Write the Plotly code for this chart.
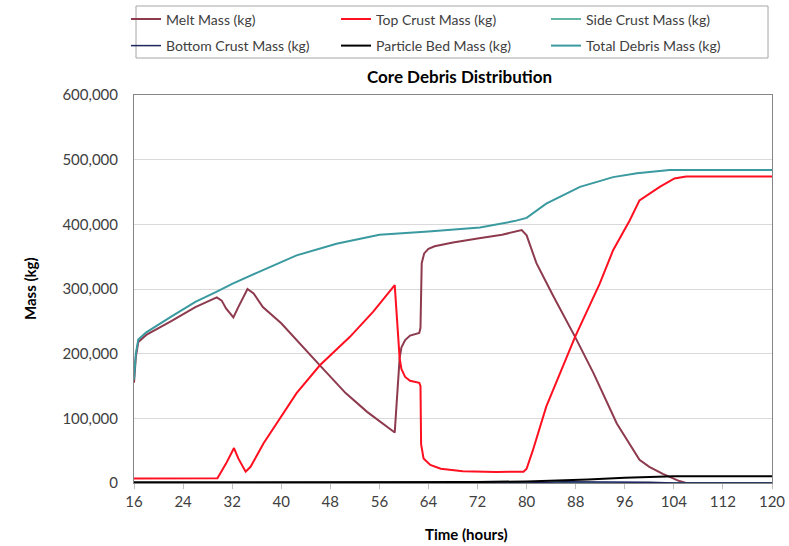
import plotly.graph_objects as go

# ---------------- data ----------------
melt_t = [16, 16.3, 16.7, 18, 22, 26, 29.5, 30.3, 31, 32.2, 33, 34.5, 35.5, 37, 40, 42, 46.3, 50.5, 54, 58.5,
          59.0, 59.3, 59.6, 60.2, 61, 62.5, 62.7, 62.9, 63.3, 64, 65, 68, 72, 76, 79.2, 80, 81.6, 84.3,
          87.9, 90.9, 94.7, 98.4, 100, 102.2, 104.9, 106, 120]
melt_kg = [155000, 195000, 218000, 229000, 250000, 272000, 287000, 282000, 270000, 256000, 272000, 300000,
           293000, 272000, 247000, 226000, 182000, 139000, 110000, 78000,
           150000, 193000, 210000, 221000, 228000, 232000, 240000, 340000, 355000, 362000, 366000, 372000,
           378000, 384000, 391000, 383000, 340000, 290000,
           226000, 170000, 92000, 36000, 25000, 14000, 3000, 0, 0]

top_t = [16, 29.6, 31, 32.3, 33, 34.2, 35, 37.1, 42.5, 46.3, 51.2, 55, 58.5, 59.3, 59.6, 60.2, 61, 62.5,
         62.7, 62.8, 63.2, 64.3, 66, 69.6, 75, 79.5, 80, 81, 83.2, 85.4, 87.9, 91.9, 94.1, 96.8, 98.4,
         101.7, 104.1, 106, 120]
top_kg = [7000, 7500, 30000, 54000, 38000, 17500, 25000, 61000, 139000, 182000, 226000, 265000, 306000,
          193000, 176000, 164000, 158000, 155000,
          150000, 60000, 38000, 28000, 22000, 18000, 17000, 17500, 22000, 50000, 118000, 169000, 226000,
          308000, 360000, 406000, 437000,
          458000, 471000, 474000, 474000]

side_t = [16, 120]
side_kg = [0, 0]

bottom_t = [16, 80, 86, 92, 100, 104, 120]
bottom_kg = [0, 0, 2000, 2000, 1000, 0, 0]

bed_t = [16, 64, 72, 80, 85, 90, 96, 104, 120]
bed_kg = [1000, 1200, 1500, 2500, 3500, 5500, 8000, 10500, 10500]

total_t = [16, 16.3, 16.7, 18, 22, 26, 29.5, 32, 36, 42.5, 49, 56, 64, 72.4, 78, 80, 83.2, 85.4, 88.7,
           94.1, 98, 103.3, 120]
total_kg = [160000, 200000, 222000, 233000, 257000, 280000, 296000, 308000, 325000, 352000, 370000,
            384000, 389000, 395000, 405000, 410000, 432000, 442000, 458000,
            473000, 479000, 484000, 484000]

x_ticks = [16, 24, 32, 40, 48, 56, 64, 72, 80, 88, 96, 104, 112, 120]
y_ticks = [0, 100000, 200000, 300000, 400000, 500000, 600000]

# ---------------- figure ----------------
FONT = "Lato, 'Open Sans', sans-serif"
TXT = "#404040"

fig = go.Figure()
series = [
    ("Melt Mass (kg)", melt_t, melt_kg, "#8e3a4e", 2, "legend"),
    ("Top Crust Mass (kg)", top_t, top_kg, "#ff1020", 2, "legend"),
    ("Side Crust Mass (kg)", side_t, side_kg, "#2f9e86", 1.5, "legend"),
    ("Bottom Crust Mass (kg)", bottom_t, bottom_kg, "#1f2560", 1.5, "legend2"),
    ("Particle Bed Mass (kg)", bed_t, bed_kg, "#000000", 2, "legend2"),
    ("Total Debris Mass (kg)", total_t, total_kg, "#3a9aa0", 2, "legend2"),
]
for name, t, v, col, w, lg in series:
    fig.add_trace(go.Scatter(x=t, y=v, name=name, mode="lines",
                             line=dict(color=col, width=w), legend=lg))

W, H = 789, 546
L, R, T, B = 134, 17, 95, 63
pw, ph = W - L - R, H - T - B


def px(xp):
    return (xp - L) / pw


def py(yp):
    return (H - B - yp) / ph


leg_common = dict(orientation="h", xanchor="left", yanchor="middle",
                  font=dict(family=FONT, size=14, color=TXT),
                  bgcolor="rgba(0,0,0,0)", borderwidth=0,
                  entrywidth=165, entrywidthmode="pixels")

fig.update_layout(
    width=W, height=H,
    margin=dict(l=L, r=R, t=T, b=B, autoexpand=False),
    paper_bgcolor="white", plot_bgcolor="white",
    font=dict(family=FONT, size=14, color=TXT),
    title=dict(text="<b>Core Debris Distribution</b>", x=459.5 / W, xref="container",
               xanchor="center", y=1 - 77 / H, yref="container", yanchor="middle",
               font=dict(family=FONT, size=17, color="#000000")),
    legend=dict(x=px(126), y=py(19.5), **leg_common),
    legend2=dict(x=px(126), y=py(46), **leg_common),
    xaxis=dict(range=[16, 120], tickvals=x_ticks, ticktext=[str(v) for v in x_ticks],
               showgrid=False, zeroline=False, showline=True, linecolor="#868686", linewidth=1,
               mirror=True, ticks="outside", ticklen=5, tickcolor="#bfbfbf",
               tickfont=dict(family=FONT, size=15, color=TXT)),
    yaxis=dict(range=[0, 600000], tickvals=y_ticks, tickformat=",",
               showgrid=True, gridcolor="#d9d9d9", gridwidth=1, zeroline=False,
               showline=True, linecolor="#868686", linewidth=1, mirror=True,
               ticks="outside", ticklen=0, ticklabelstandoff=12,
               tickfont=dict(family=FONT, size=15, color=TXT)),
    shapes=[dict(type="rect", xref="paper", yref="paper",
                 x0=px(136), x1=px(768), y0=py(58), y1=py(6),
                 line=dict(color="#a6a6a6", width=1), fillcolor="rgba(0,0,0,0)")],
    annotations=[
        dict(text="<b>Time (hours)</b>", xref="paper", yref="paper", x=px(466), y=py(534),
             showarrow=False, xanchor="center", yanchor="middle",
             font=dict(family=FONT, size=15, color="#000000")),
        dict(text="<b>Mass (kg)</b>", xref="paper", yref="paper", x=px(30), y=0.5,
             showarrow=False, xanchor="center", yanchor="middle", textangle=-90,
             font=dict(family=FONT, size=15, color="#000000")),
    ],
)

fig.write_html("out.html", config={"displayModeBar": False},
               post_script="document.body.style.margin='0';document.body.style.padding='0';")
